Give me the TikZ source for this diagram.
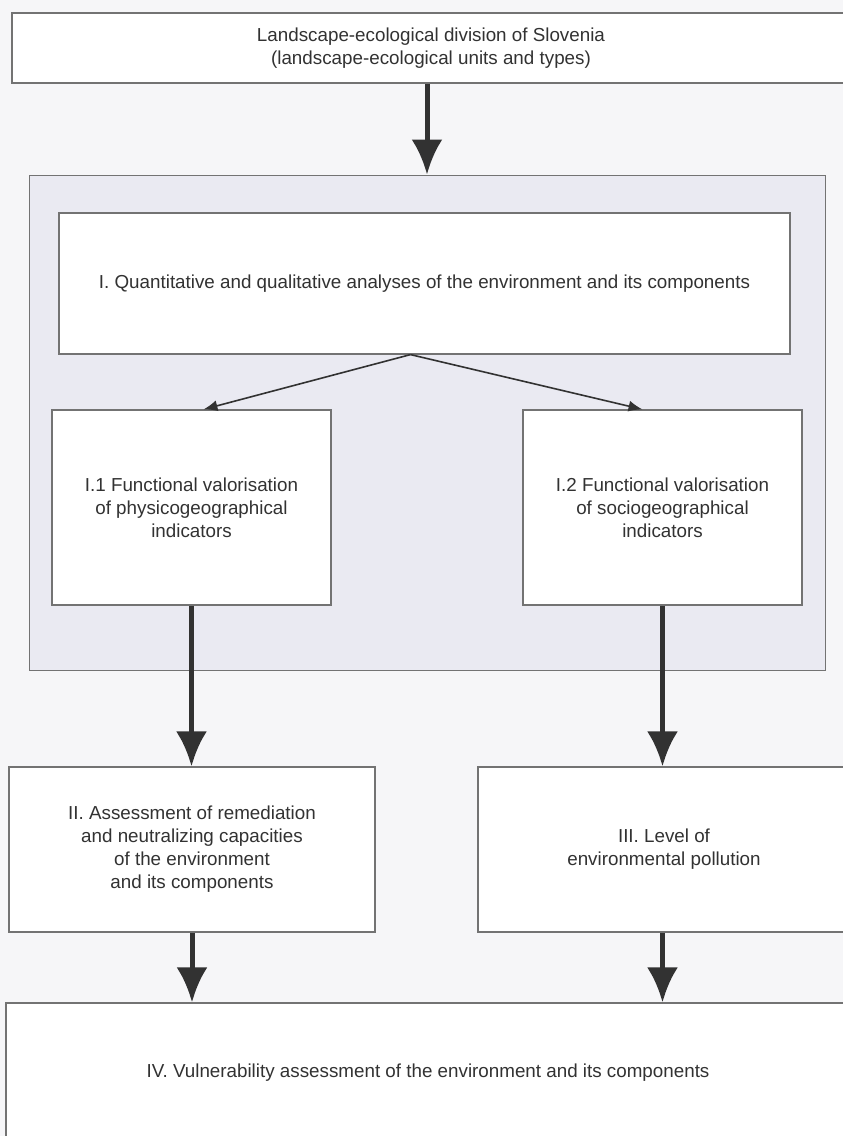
\documentclass[tikz,border=0pt]{standalone}
\usepackage{fontspec}
\setmainfont{Liberation Sans}
\usetikzlibrary{arrows.meta}
\definecolor{paper}{RGB}{246,246,248}
\definecolor{shade}{RGB}{234,234,242}
\definecolor{ink}{RGB}{50,50,50}
\definecolor{rule}{RGB}{115,115,115}
\begin{document}
\begin{tikzpicture}[x=1pt,y=-1pt,
    box/.style={draw=rule,line width=1.2pt,fill=white,align=center,inner sep=0pt,text=ink,
        font=\fontsize{18.8pt}{23pt}\selectfont},
    bigarrow/.style={draw=ink,line width=5pt,-{Latex[length=35pt,width=31pt]}},
    thinarrow/.style={draw=ink,line width=1.6pt,-{Latex[length=14pt,width=11pt]}}]
        \clip (0,0) rectangle (843,1136);
        \fill[paper] (0,0) rectangle (843,1136);
        % top box
        \node[box,minimum width=838pt,minimum height=70pt] (div) at (431,48)
            {Landscape-ecological division of Slovenia\\(landscape-ecological units and types)};
        % shaded frame round I
        \node[draw=rule,line width=1pt,fill=shade,minimum width=796pt,minimum height=495pt,inner sep=0pt] (frame) at (427,422.5) {};
        \node[box,minimum width=731pt,minimum height=141pt] (qa) at (424.5,283.5)
            {I. Quantitative and qualitative analyses of the environment and its components};
        \node[box,minimum width=279pt,minimum height=195pt] (phys) at (191.5,507.5)
            {I.1 Functional valorisation\\of physicogeographical\\indicators};
        \node[box,minimum width=279pt,minimum height=195pt] (soc) at (662.5,507.5)
            {I.2 Functional valorisation\\of sociogeographical\\indicators};
        % II and III
        \node[box,minimum width=366pt,minimum height=165pt] (rem) at (192,849.5)
            {II. Assessment of remediation\\and neutralizing capacities\\of the environment\\and its components};
        \node[box,minimum width=372pt,minimum height=165pt] (poll) at (664,849.5)
            {III. Level of\\environmental pollution};
        % IV
        \node[box,minimum width=844pt,minimum height=140pt] (vul) at (428,1073)
            {IV. Vulnerability assessment of the environment and its components};
        % arrows
        \draw[bigarrow] (div.south -| frame.north) -- (frame.north);
        \coordinate (split) at ([xshift=-14pt]qa.south);
        \draw[thinarrow] (split) -- ([xshift=12pt]phys.north);
        \draw[thinarrow] (split) -- ([xshift=-20pt]soc.north);
        \draw[bigarrow] (phys.south) -- (phys.south |- rem.north);
        \draw[bigarrow] (soc.south) -- (soc.south |- poll.north);
        \draw[bigarrow] (rem.south) -- (rem.south |- vul.north);
        \draw[bigarrow] (soc.south |- poll.south) -- (soc.south |- vul.north);
\end{tikzpicture}
\end{document}
